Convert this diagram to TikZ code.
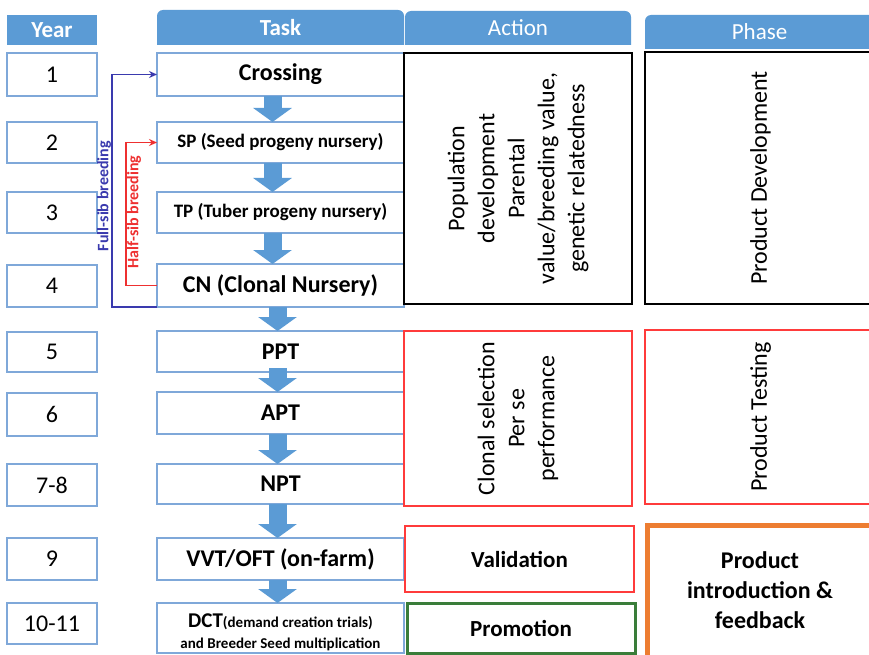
\documentclass[tikz,border=0pt]{standalone}
\usepackage{fontspec}
\setmainfont{Carlito}
\usetikzlibrary{arrows.meta}
\definecolor{hdrblue}{HTML}{5B9BD5}
\definecolor{boxblue}{HTML}{7FA8D9}
\definecolor{arrowblue}{HTML}{5B9BD5}
\definecolor{redline}{HTML}{FF3B3B}
\definecolor{greenline}{HTML}{3A7D3A}
\definecolor{orangeline}{HTML}{ED7D31}
\definecolor{fsblue}{HTML}{3A3AAE}
\definecolor{hsred}{HTML}{EE3030}
\begin{document}
\begin{tikzpicture}[x=1pt,y=-1pt,
  every node/.style={inner sep=0pt,outer sep=0pt},
  corners/.style n args={4}{at={(#1,#2)},anchor=north west,minimum width={#3-#1},minimum height={#4-#2}},
  big/.style={font=\fontsize{24}{29}\selectfont},
  bigb/.style={font=\bfseries\fontsize{24}{29}\selectfont},
  cell/.style={draw=boxblue,line width=1.4pt,fill=white,align=center},
  hdrtext/.style={text=white,font=\fontsize{23}{28}\selectfont},
  hdrfill/.style={fill=hdrblue},
  actbox/.style={draw=black,line width=1.6pt},
  redbox/.style={draw=redline,line width=1.4pt},
  rottext/.style={rotate=90,align=center,font=\fontsize{24}{30}\selectfont},
  blockarr/.style={draw=arrowblue,line width=18pt,-{Triangle[length=14pt,width=38pt]}},
  fbline/.style={line width=1.4pt,-{Stealth[length=8pt,width=7pt]}},
  fblabel/.style={rotate=90,font=\bfseries\fontsize{16}{19}\selectfont},
]
\useasboundingbox (0,0) rectangle (869,655);
\clip (0,0) rectangle (869,655);
\fill[white] (0,0) rectangle (869,655);

% headers
\fill[hdrfill] (7,15) rectangle (97,45);
\node[corners={7}{15}{97}{45},hdrtext,font=\bfseries\fontsize{23}{28}\selectfont] (yh) {Year};
\fill[hdrfill] (157,45) [rounded corners=6pt] -- (157,10) -- (404,10) [sharp corners] -- (404,45) -- cycle;
\node[corners={157}{10}{404}{45},hdrtext,font=\bfseries\fontsize{23}{28}\selectfont] (th) {Task};
\fill[hdrfill] (405,45) [rounded corners=6pt] -- (405,11) -- (631,11) [sharp corners] -- (631,45) -- cycle;
\node[corners={405}{11}{631}{45},hdrtext] (ah) {Action};
\fill[hdrfill] (645,49) [rounded corners=6pt] -- (645,15) -- (880,15) [sharp corners] -- (880,49) -- cycle;
\node[corners={645}{15}{874}{49},hdrtext] (ph) {Phase};

% year boxes
\node[cell,big,corners={7}{53}{97}{96}] (y1) {1};
\node[cell,big,corners={7}{122}{97}{163}] (y2) {2};
\node[cell,big,corners={7}{192}{97}{233}] (y3) {3};
\node[cell,big,corners={7}{265}{97}{307}] (y4) {4};
\node[cell,big,corners={7}{332}{97}{372}] (y5) {5};
\node[cell,big,corners={7}{393}{97}{436}] (y6) {6};
\node[cell,big,corners={7}{464}{97}{506}] (y7) {7-8};
\node[cell,big,corners={7}{538}{97}{580}] (y9) {9};
\node[cell,big,corners={7}{603}{97}{644}] (y10) {10-11};

% task boxes
\node[cell,bigb,corners={157}{53}{404}{96}] (crossing) {Crossing};
\node[cell,font=\bfseries\fontsize{19}{23}\selectfont,corners={157}{122}{404}{163}] (sp) {SP (Seed progeny nursery)};
\node[cell,font=\bfseries\fontsize{19}{23}\selectfont,corners={157}{192}{404}{233}] (tp) {TP (Tuber progeny nursery)};
\node[cell,bigb,corners={157}{264}{404}{307}] (cn) {CN (Clonal Nursery)};
\node[cell,bigb,corners={157}{331}{404}{372}] (ppt) {PPT};
\node[cell,bigb,corners={157}{392}{404}{434}] (apt) {APT};
\node[cell,bigb,corners={157}{464}{404}{504}] (npt) {NPT};
\node[cell,bigb,corners={157}{538}{404}{580}] (vvt) {VVT/OFT (on-farm)};
\node[cell,corners={157}{603}{404}{653}] (dct) {};
\node[align=center,font=\bfseries\fontsize{15}{21}\selectfont] (dctt) at ([yshift=-4]dct.center)
  {{\fontsize{21}{21}\selectfont DCT}(demand creation trials)\\and Breeder Seed multiplication};

% block arrows
\draw[blockarr] ([xshift=-8]crossing.south) -- ([xshift=-8]sp.north);
\draw[blockarr] ([xshift=-8]sp.south) -- ([xshift=-8]tp.north);
\draw[blockarr] ([xshift=-8]tp.south) -- ([xshift=-8]cn.north);
\draw[blockarr] ([xshift=-3]cn.south) -- ([xshift=-3]ppt.north);
\draw[blockarr] ([xshift=-3,yshift=4]ppt.south) -- ([xshift=-3]apt.north);
\draw[blockarr] ([xshift=-3]apt.south) -- ([xshift=-3]npt.north);
\draw[blockarr] ([xshift=-3]npt.south) -- ([xshift=-3]vvt.north);
\draw[blockarr] ([xshift=-3]vvt.south) -- ([xshift=-3]dct.north);

% feedback loops
\draw[fbline,draw=fsblue] (cn.south west) -- ([xshift=-45]cn.south west) |- (crossing.west);
\draw[fbline,draw=hsred] (cn.west) -- ([xshift=-31]cn.west) |- (sp.west);
\node[fblabel,text=fsblue] (fsl) at (104,196) {Full-sib breeding};
\node[fblabel,text=hsred] (hsl) at (134,212) {Half-sib breeding};

% action column
\node[actbox,corners={404}{53}{632}{304}] (a1) {};
\node[rottext] (a1t) at (a1.center) {Population\\development\\Parental\\value/breeding value,\\genetic relatedness};
\node[redbox,corners={404}{331}{632}{506}] (a2) {};
\node[rottext] (a2t) at (a2.center) {Clonal selection\\Per se\\performance};
\node[redbox,corners={405}{526}{634}{592},font=\bfseries\fontsize{23}{28}\selectfont] (val) {Validation};
\node[draw=greenline,line width=3pt,corners={407}{603}{635}{653},font=\bfseries\fontsize{23}{28}\selectfont] (prom) {Promotion};

% phase column
\node[actbox,corners={645}{52}{880}{304}] (p1) {};
\node[rottext] (p1t) at ([xshift=-2]p1.center) {Product Development};
\node[redbox,corners={645}{330}{880}{504}] (p2) {};
\node[rottext] (p2t) at ([xshift=-2]p2.center) {Product Testing};
\node[draw=orangeline,line width=5pt,corners={647.5}{525.5}{882}{670}] (p3) {};
\node[align=center,font=\bfseries\fontsize{24}{30}\selectfont] (p3t) at (760,590) {Product\\introduction \&\\feedback};
\end{tikzpicture}
\end{document}
